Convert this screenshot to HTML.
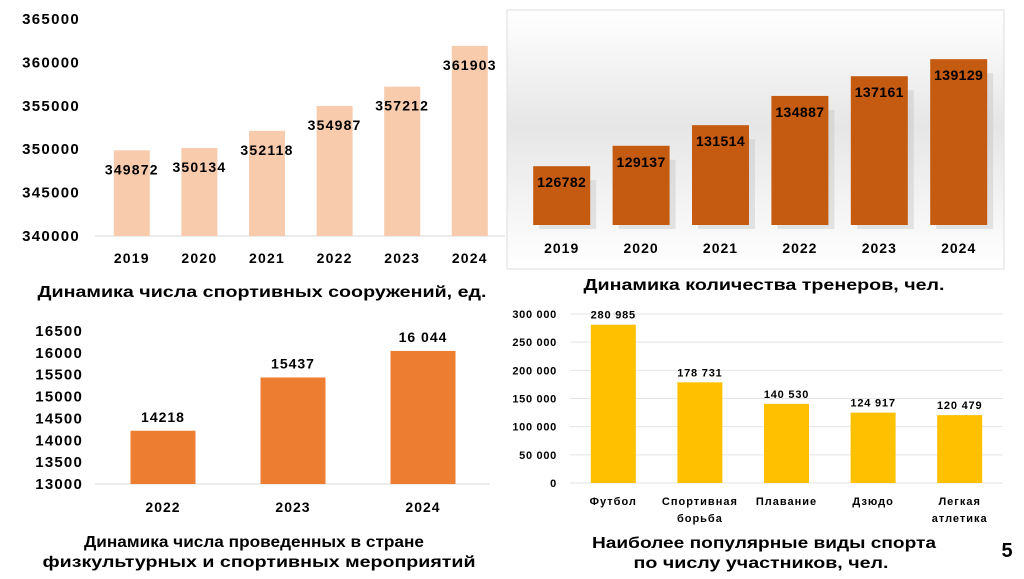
<!DOCTYPE html>
<html><head><meta charset="utf-8"><style>
body{margin:0;background:#fff;width:1024px;height:574px;overflow:hidden}
svg{font-family:"Liberation Sans",sans-serif;font-weight:bold}
</style></head><body>
<svg width="1024" height="574">
<defs>
<linearGradient id="bg2" x1="0" y1="0" x2="0" y2="1">
<stop offset="0" stop-color="#ffffff"/><stop offset="0.45" stop-color="#e6e6e6"/><stop offset="0.8" stop-color="#f6f6f6"/><stop offset="1" stop-color="#ffffff"/>
</linearGradient>
</defs>
<rect x="507" y="10" width="497" height="259" fill="url(#bg2)" stroke="#ddd"/>
<g id="c1"></g><g id="c2"></g><g id="c3"></g><g id="c4"></g>
<text x="262" y="297" font-size="16" text-anchor="middle" textLength="449" lengthAdjust="spacingAndGlyphs">Динамика числа спортивных сооружений, ед.</text>
<text x="764" y="290" font-size="16" text-anchor="middle" textLength="361" lengthAdjust="spacingAndGlyphs">Динамика количества тренеров, чел.</text>
<text x="254" y="547" font-size="16" text-anchor="middle" textLength="340" lengthAdjust="spacingAndGlyphs">Динамика числа проведенных в стране</text>
<text x="259" y="567" font-size="16" text-anchor="middle" textLength="433" lengthAdjust="spacingAndGlyphs">физкультурных и спортивных мероприятий</text>
<text x="764" y="548" font-size="16" text-anchor="middle" textLength="344" lengthAdjust="spacingAndGlyphs">Наиболее популярные виды спорта</text>
<text x="761" y="568" font-size="16" text-anchor="middle" textLength="255" lengthAdjust="spacingAndGlyphs">по числу участников, чел.</text>
<text x="1007" y="557" font-size="20" text-anchor="middle">5</text>
</svg>
<script>
const NS='http://www.w3.org/2000/svg';
const years1=['2019','2020','2021','2022','2023','2024'];
const facilities=[349872,350134,352118,354987,357212,361903];
const ticks1=[340000,345000,350000,355000,360000,365000];
const trainers=[126782,129137,131514,134887,137161,139129];
const years3=['2022','2023','2024'];
const events=[14218,15437,16044];
const eventLabels=['14218','15437','16 044'];
const ticks3=[13000,13500,14000,14500,15000,15500,16000,16500];
const sports=['Футбол','Спортивная|борьба','Плавание','Дзюдо','Легкая|атлетика'];
const participants=[280985,178731,140530,124917,120479];
const ticks4=[0,50000,100000,150000,200000,250000,300000];
function el(p,tag,a,txt){const e=document.createElementNS(NS,tag);for(const k in a)e.setAttribute(k,a[k]);if(txt!==undefined)e.textContent=txt;p.appendChild(e);return e;}
function sp(n){return String(n).replace(/\B(?=(\d{3})+(?!\d))/g,' ');}
// chart 1
(function(){const g=document.getElementById('c1');
const y=v=>236-(v-340000)/25000*217;const x0=98,step=67.6,bw=36;
ticks1.forEach(t=>{const e=el(g,'text',{x:80,y:y(t)+5,'font-size':15,'letter-spacing':1.3,'text-anchor':'end'},t);
});
el(g,'line',{x1:95,x2:505,y1:236,y2:236,stroke:'#d9d9d9'});
facilities.forEach((v,i)=>{const cx=x0+step*i+step/2;
const r=el(g,'rect',{x:cx-bw/2,y:y(v),width:bw,height:236-y(v),fill:'#f8cbad'});

const t=el(g,'text',{x:cx,y:y(v)+24,'font-size':14,'letter-spacing':1.2,'text-anchor':'middle'},v);

const l=el(g,'text',{x:cx,y:263,'font-size':14,'letter-spacing':1.2,'text-anchor':'middle'},years1[i]);
});})();
// chart 2
(function(){const g=document.getElementById('c2');
const y=v=>225-(v-120000)*0.00867;const x0=522,step=79.4,bw=57;
trainers.forEach((v,i)=>{const cx=x0+step*i+step/2;
el(g,'rect',{x:cx-bw/2+6,y:y(v)+14,width:bw,height:225-y(v)-10,fill:'#bbb',opacity:0.35});
const r=el(g,'rect',{x:cx-bw/2,y:y(v),width:bw,height:225-y(v),fill:'#c55a11'});

const t=el(g,'text',{x:cx,y:y(v)+21,'font-size':14,'letter-spacing':0.4,'text-anchor':'middle'},v);

const l=el(g,'text',{x:cx,y:253,'font-size':14,'letter-spacing':1,'text-anchor':'middle'},years1[i]);
});})();
// chart 3
(function(){const g=document.getElementById('c3');
const y=v=>484-(v-13000)/3500*153;const x0=98,step=130,bw=65;
ticks3.forEach(t=>{const e=el(g,'text',{x:83,y:y(t)+5,'font-size':15,'letter-spacing':1.2,'text-anchor':'end'},t);
});
el(g,'line',{x1:95,x2:490,y1:484,y2:484,stroke:'#d9d9d9'});
events.forEach((v,i)=>{const cx=x0+step*i+step/2;
const r=el(g,'rect',{x:cx-bw/2,y:y(v),width:bw,height:484-y(v),fill:'#ed7d31'});

const t=el(g,'text',{x:cx,y:y(v)-9,'font-size':14,'letter-spacing':1,'text-anchor':'middle'},eventLabels[i]);

const l=el(g,'text',{x:cx,y:512,'font-size':14,'letter-spacing':1,'text-anchor':'middle'},years3[i]);
});})();
// chart 4
(function(){const g=document.getElementById('c4');
const y=v=>483-v/300000*169;const x0=570,step=86.6,bw=45;
ticks4.forEach(t=>{el(g,'line',{x1:570,x2:1003,y1:y(t),y2:y(t),stroke:'#e4e4e4'});
const e=el(g,'text',{x:557,y:y(t)+4,'font-size':11,'letter-spacing':0.7,'text-anchor':'end'},sp(t));
});
participants.forEach((v,i)=>{const cx=x0+step*i+step/2;
const r=el(g,'rect',{x:cx-bw/2,y:y(v),width:bw,height:483-y(v),fill:'#ffc000'});

const t=el(g,'text',{x:cx,y:y(v)-6,'font-size':11,'letter-spacing':0.8,'text-anchor':'middle'},sp(v));

sports[i].split('|').forEach((s,k)=>{const l=el(g,'text',{x:cx,y:505+k*17,'font-size':11,'letter-spacing':1,'text-anchor':'middle'},s);
});});})();
</script>
</body></html>
